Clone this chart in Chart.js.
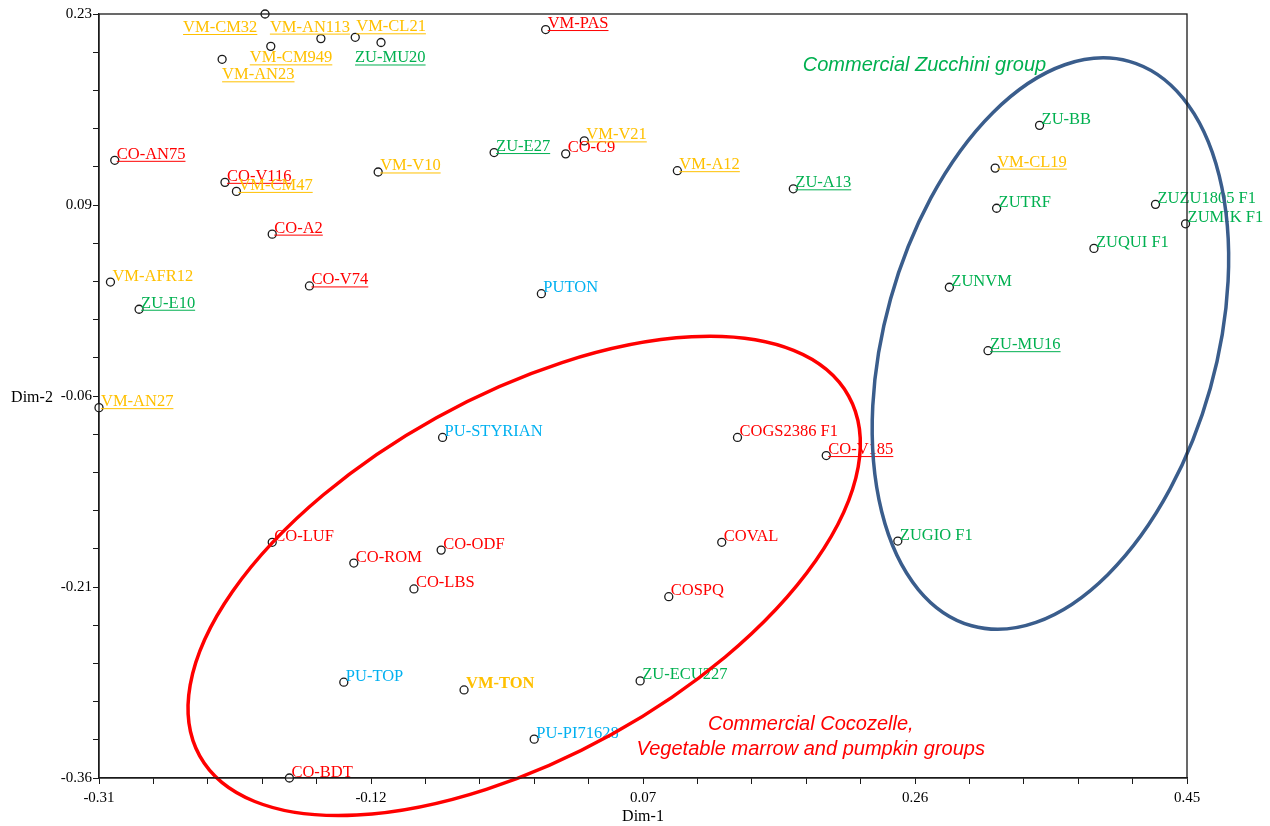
<!DOCTYPE html>
<html>
<head>
<meta charset="utf-8">
<title>Dim-1 / Dim-2</title>
<script src="https://cdn.jsdelivr.net/npm/chart.js@4.4.1/dist/chart.umd.min.js"></script>
<style>
  html, body { margin: 0; padding: 0; background: #fff; }
  #wrap { width: 1270px; height: 826px; }
</style>
</head>
<body>
<div id="wrap"><canvas id="chart" width="1270" height="826"></canvas></div>
<script>
// ============= DATA =============
const names = ['VM-CM32', 'VM-AN113', 'VM-CL21', 'VM-CM949', 'VM-AN23', 'ZU-MU20', 'VM-PAS',
    'CO-AN75', 'CO-V116', 'VM-CM47', 'VM-V10', 'CO-A2', 'VM-AFR12', 'ZU-E10', 'CO-V74',
    'ZU-E27', 'CO-C9', 'VM-V21', 'VM-A12', 'ZU-A13', 'PUTON',
    'ZU-BB', 'VM-CL19', 'ZUTRF', 'ZUZU1805 F1', 'ZUMIK F1', 'ZUQUI F1', 'ZUNVM', 'ZU-MU16', 'ZUGIO F1',
    'VM-AN27', 'PU-STYRIAN', 'COGS2386 F1', 'CO-V185', 'CO-LUF', 'CO-ROM', 'CO-ODF', 'CO-LBS',
    'COVAL', 'COSPQ', 'PU-TOP', 'VM-TON', 'ZU-ECU227', 'PU-PI71628', 'CO-BDT'];

const dim1 = [-0.194, -0.155, -0.131, -0.190, -0.224, -0.113, 0.002,
    -0.299, -0.222, -0.214, -0.115, -0.189, -0.302, -0.282, -0.163,
    -0.034, 0.016, 0.029, 0.094, 0.175, -0.001,
    0.347, 0.316, 0.317, 0.428, 0.449, 0.385, 0.284, 0.311, 0.248,
    -0.310, -0.070, 0.136, 0.198, -0.189, -0.132, -0.071, -0.090,
    0.125, 0.088, -0.139, -0.055, 0.068, -0.006, -0.177];

const dim2 = [0.230, 0.211, 0.212, 0.205, 0.195, 0.208, 0.218,
    0.117, 0.100, 0.093, 0.108, 0.060, 0.023, 0.002, 0.020,
    0.123, 0.122, 0.132, 0.109, 0.095, 0.014,
    0.144, 0.111, 0.080, 0.083, 0.068, 0.049, 0.019, -0.030, -0.177,
    -0.074, -0.097, -0.097, -0.111, -0.178, -0.194, -0.184, -0.214,
    -0.178, -0.220, -0.286, -0.292, -0.285, -0.330, -0.360];

// label colour group of each accession
const labelGroup = ['VM', 'VM', 'VM', 'VM', 'VM', 'ZU', 'CO',
    'CO', 'CO', 'VM', 'VM', 'CO', 'VM', 'ZU', 'CO',
    'ZU', 'CO', 'VM', 'VM', 'ZU', 'PU',
    'ZU', 'VM', 'ZU', 'ZU', 'ZU', 'ZU', 'ZU', 'ZU', 'ZU',
    'VM', 'PU', 'CO', 'CO', 'CO', 'CO', 'CO', 'CO',
    'CO', 'CO', 'PU', 'VM', 'ZU', 'PU', 'CO'];

// underlined accessions (landraces)
const isLandrace = [1, 1, 1, 1, 1, 1, 1,
    1, 1, 1, 1, 1, 0, 1, 1,
    1, 0, 1, 1, 1, 0,
    0, 1, 0, 0, 0, 0, 0, 1, 0,
    1, 0, 0, 1, 0, 0, 0, 0,
    0, 0, 0, 0, 0, 0, 0];

const xTickLabels = ['-0.31', '-0.12', '0.07', '0.26', '0.45'];
const yTickLabels = ['-0.36', '-0.21', '-0.06', '0.09', '0.23'];

// ============= STYLE =============
const groupColors = { CO: '#ff0000', VM: '#ffc000', ZU: '#00b050', PU: '#00b0f0' };
const boldLabels = ['VM-TON'];
// crowded labels moved off their default spot (px from point)
const labelShift = {
    'VM-CM32': [-82, 18], 'VM-AN113': [-51, -7], 'VM-CL21': [1, -6],
    'VM-CM949': [-21, 16], 'ZU-MU20': [-26, 20], 'VM-AN23': [0, 20]
};
const SERIF = '"Liberation Serif", "Times New Roman", serif';
const SANS = '"Liberation Sans", Arial, sans-serif';

const X_MIN = -0.31, X_MAX = 0.45;
const Y_MIN = -0.36, Y_MAX = 0.23;

function evenTicks(min, max, n) {
    const out = [];
    for (let i = 0; i <= n; i++) out.push({ value: min + (max - min) * i / n });
    return out;
}

// ============= PLUGINS =============
const pointLabels = {
    id: 'pointLabels',
    afterDatasetsDraw(chart) {
        const ctx = chart.ctx;
        const meta = chart.getDatasetMeta(0);
        ctx.save();
        ctx.textBaseline = 'alphabetic';
        ctx.textAlign = 'left';
        names.forEach((name, i) => {
            const pt = meta.data[i];
            const shift = labelShift[name] || [2, -1.5];
            const tx = pt.x + shift[0];
            const ty = pt.y + shift[1];
            const color = groupColors[labelGroup[i]];
            ctx.font = (boldLabels.includes(name) ? 'bold ' : '') + '16.5px ' + SERIF;
            ctx.fillStyle = color;
            ctx.fillText(name, tx, ty);
            if (isLandrace[i]) {
                const w = ctx.measureText(name).width;
                ctx.strokeStyle = color;
                ctx.lineWidth = 1;
                ctx.beginPath();
                ctx.moveTo(tx, ty + 2.5);
                ctx.lineTo(tx + w, ty + 2.5);
                ctx.stroke();
            }
        });
        ctx.restore();
    }
};

const groupShapes = {
    id: 'groupShapes',
    afterDraw(chart) {
        const ctx = chart.ctx;
        const xs = chart.scales.x, ys = chart.scales.y;
        const area = chart.chartArea;

        // group ellipses
        const ellipses = [
            { cx: -0.013, cy: -0.204, rx: 371, ry: 181, rot: -29, color: '#ff0000' },
            { cx: 0.3546, cy: -0.0245, rx: 293, ry: 166, rot: -74.4, color: '#3a5d8c' }
        ];
        ctx.save();
        ellipses.forEach(e => {
            ctx.beginPath();
            ctx.ellipse(xs.getPixelForValue(e.cx), ys.getPixelForValue(e.cy), e.rx, e.ry,
                e.rot * Math.PI / 180, 0, Math.PI * 2);
            ctx.strokeStyle = e.color;
            ctx.lineWidth = 3.5;
            ctx.stroke();
        });

        // group captions
        ctx.font = 'italic 20px ' + SANS;
        ctx.textBaseline = 'middle';
        ctx.fillStyle = '#00b050';
        ctx.textAlign = 'left';
        ctx.fillText('Commercial Zucchini group', xs.getPixelForValue(0.1816), ys.getPixelForValue(0.1906));
        ctx.fillStyle = '#ff0000';
        ctx.textAlign = 'center';
        const rx = xs.getPixelForValue(0.1872), ry = ys.getPixelForValue(-0.3183);
        ctx.fillText('Commercial Cocozelle,', rx, ry);
        ctx.fillText('Vegetable marrow and pumpkin groups', rx, ry + 25);

        // frame
        ctx.strokeStyle = '#1a1a1a';
        ctx.lineWidth = 1.3;
        ctx.strokeRect(area.left, area.top, area.right - area.left, area.bottom - area.top);

        // axis titles
        ctx.fillStyle = '#000';
        ctx.font = '16px ' + SERIF;
        ctx.textAlign = 'center';
        ctx.fillText('Dim-1', (area.left + area.right) / 2, 817);
        ctx.fillText('Dim-2', 32, ys.getPixelForValue(-0.065) + 2);
        ctx.restore();
    }
};

// ============= CHART =============
const points = names.map((n, i) => ({ x: dim1[i], y: dim2[i] }));

new Chart(document.getElementById('chart'), {
    type: 'scatter',
    data: {
        datasets: [{
            data: points,
            pointRadius: 4,
            pointBorderWidth: 1.3,
            pointBorderColor: '#1a1a1a',
            pointBackgroundColor: '#ffffff',
            clip: false
        }]
    },
    options: {
        responsive: false,
        animation: false,
        events: [],
        layout: { padding: { top: 14, right: 83, left: 0, bottom: 0 } },
        plugins: {
            legend: { display: false },
            tooltip: { enabled: false }
        },
        scales: {
            x: {
                type: 'linear',
                min: X_MIN,
                max: X_MAX,
                afterBuildTicks: s => { s.ticks = evenTicks(X_MIN, X_MAX, 20); },
                afterFit: s => { s.height = 48; },
                grid: { drawOnChartArea: false, tickLength: 6, color: '#1a1a1a', lineWidth: 1 },
                border: { display: true, color: '#1a1a1a', width: 1.3 },
                ticks: {
                    autoSkip: false,
                    maxRotation: 0,
                    padding: 5,
                    color: '#000',
                    font: { family: SERIF, size: 15 },
                    callback: (v, i) => (i % 5 === 0 ? xTickLabels[i / 5] : '')
                }
            },
            y: {
                type: 'linear',
                min: Y_MIN,
                max: Y_MAX,
                afterBuildTicks: s => { s.ticks = evenTicks(Y_MIN, Y_MAX, 20); },
                afterFit: s => { s.width = 99; },
                grid: { drawOnChartArea: false, tickLength: 6, color: '#1a1a1a', lineWidth: 1 },
                border: { display: true, color: '#1a1a1a', width: 1.3 },
                ticks: {
                    autoSkip: false,
                    padding: 1,
                    color: '#000',
                    font: { family: SERIF, size: 15 },
                    callback: (v, i) => (i % 5 === 0 ? yTickLabels[i / 5] : '')
                }
            }
        }
    },
    plugins: [pointLabels, groupShapes]
});
</script>
</body>
</html>
